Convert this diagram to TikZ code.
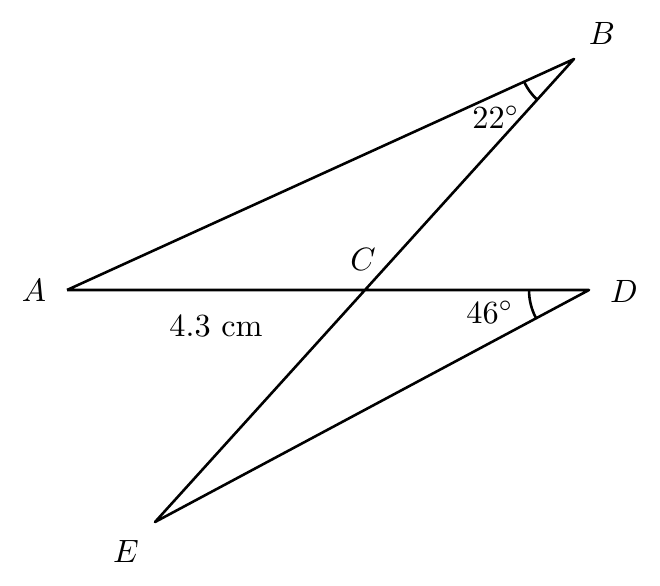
\documentclass[tikz,border=0pt]{standalone}
\usetikzlibrary{angles}
\begin{document}
\begin{tikzpicture}[x=0.31pt,y=-0.31pt,
  seg/.style={line width=0.8pt,line join=round},
  lbl/.style={inner sep=0pt,anchor=center}]
\useasboundingbox (0,0) rectangle (660,585);
\coordinate (A) at (67,290);
\coordinate (B) at (574,59);
\coordinate (C) at (365,290);
\coordinate (D) at (589,290);
\coordinate (E) at (155,522);
\draw[seg] (A) -- (B) -- (E) -- (D) -- (A);
\pic[draw,line width=0.8pt,angle radius=17pt] {angle=A--B--E};
\pic[draw,line width=0.8pt,angle radius=18.6pt] {angle=C--D--E};
\node[lbl] (lA) at (34,290) {$A$};
\node[lbl] (lB) at (602,33) {$B$};
\node[lbl] (lC) at (363,259) {$C$};
\node[lbl] (lD) at (624,291) {$D$};
\node[lbl] (lE) at (126,551) {$E$};
\node[lbl] (len) at (216,326) {4.3 cm};
\node[lbl] (a22) at (496,117) {$22^\circ$};
\node[lbl] (a46) at (490,312) {$46^\circ$};
\end{tikzpicture}
\end{document}
